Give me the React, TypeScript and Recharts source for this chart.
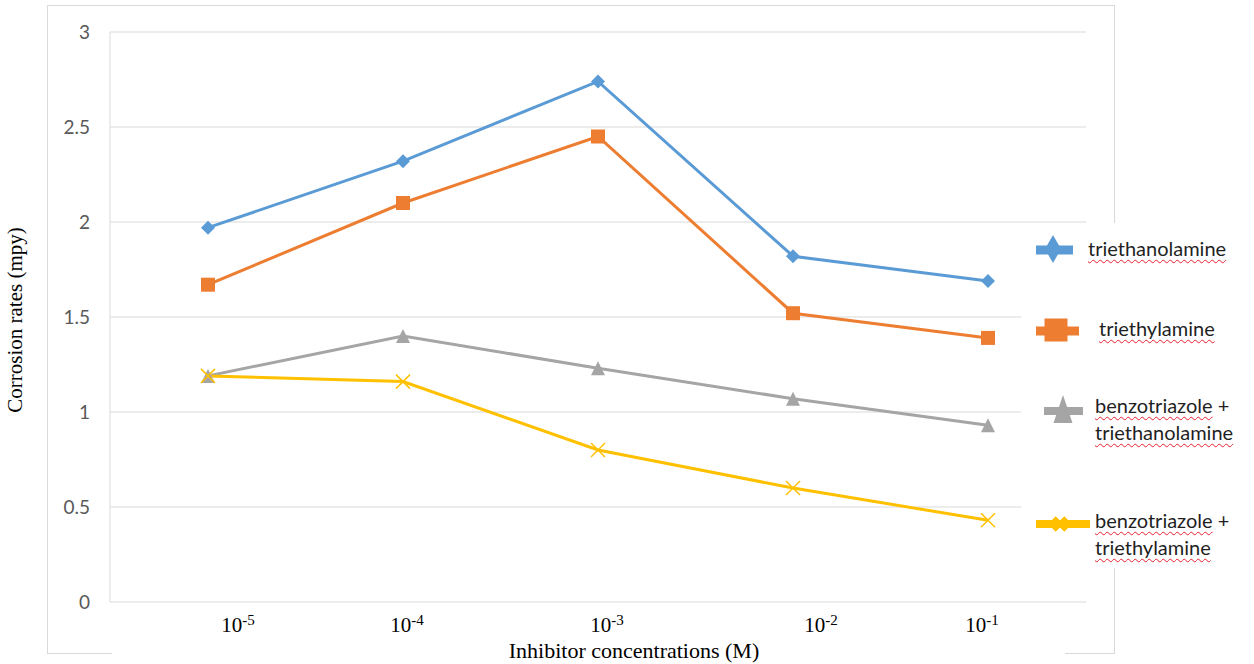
import { LineChart, Line, XAxis, YAxis, CartesianGrid, Label } from "recharts";

// concentration exponents (10^x M)
const EXPONENTS = ["-5", "-4", "-3", "-2", "-1"];

// corrosion rates (mpy)
const TRIETHANOLAMINE = [1.97, 2.32, 2.74, 1.82, 1.69];
const TRIETHYLAMINE = [1.67, 2.1, 2.45, 1.52, 1.39];
const BTA_TRIETHANOLAMINE = [1.19, 1.4, 1.23, 1.07, 0.93];
const BTA_TRIETHYLAMINE = [1.19, 1.16, 0.8, 0.6, 0.43];

const Y_TICKS = [0, 0.5, 1, 1.5, 2, 2.5, 3];

// the tick labels were placed by hand in the original, a bit off the points
const TICK_NUDGE = [30, 4, 9, 28, -6];

const data = EXPONENTS.map((exp, i) => ({
  exp,
  tea: TRIETHANOLAMINE[i],
  tey: TRIETHYLAMINE[i],
  btaTea: BTA_TRIETHANOLAMINE[i],
  btaTey: BTA_TRIETHYLAMINE[i],
}));

type Shape = "diamond" | "square" | "triangle" | "x";

const SERIES: Array<{ key: string; color: string; shape: Shape }> = [
  { key: "tea", color: "#5b9bd5", shape: "diamond" },
  { key: "tey", color: "#ed7d31", shape: "square" },
  { key: "btaTea", color: "#a5a5a5", shape: "triangle" },
  { key: "btaTey", color: "#ffc000", shape: "x" },
];

const GRID = "#d9d9d9";
const SERIF = "'Liberation Serif', 'Times New Roman', serif";
const SANS = "Lato, 'Open Sans', sans-serif";

function Marker({
  shape,
  cx,
  cy,
  color,
  w,
  h,
  xStroke = 1.5,
}: {
  shape: Shape;
  cx: number;
  cy: number;
  color: string;
  w: number;
  h: number;
  xStroke?: number;
}) {
  const hw = w / 2;
  const hh = h / 2;
  if (shape === "diamond")
    return (
      <polygon
        points={`${cx},${cy - hh} ${cx + hw},${cy} ${cx},${cy + hh} ${cx - hw},${cy}`}
        fill={color}
      />
    );
  if (shape === "square")
    return <rect x={cx - hw} y={cy - hh} width={w} height={h} fill={color} />;
  if (shape === "triangle")
    return (
      <polygon
        points={`${cx},${cy - hh} ${cx + hw},${cy + hh} ${cx - hw},${cy + hh}`}
        fill={color}
      />
    );
  return (
    <g stroke={color} strokeWidth={xStroke}>
      <line x1={cx - hw} y1={cy - hh} x2={cx + hw} y2={cy + hh} />
      <line x1={cx - hw} y1={cy + hh} x2={cx + hw} y2={cy - hh} />
    </g>
  );
}

const ConcTick = ({ x, y, payload, index }: any) => (
  <text
    x={x + (TICK_NUDGE[index] ?? 0)}
    y={y + 30}
    textAnchor="middle"
    fontFamily={SERIF}
    fontSize={21}
    fill="#000"
  >
    10
    <tspan fontSize={15} dy={-7}>
      {payload.value}
    </tspan>
  </text>
);

const Squiggle = ({ children }: { children: string }) => (
  <span
    style={{
      textDecoration: "underline wavy #e8212e",
      textDecorationThickness: "1px",
      textUnderlineOffset: "3px",
    }}
  >
    {children}
  </span>
);

const LEGEND_TEXT: Array<{ left: number; top: number; words: string[][] }> = [
  { left: 67, top: 12, words: [["triethanolamine"]] },
  { left: 78, top: 92, words: [["triethylamine"]] },
  { left: 74, top: 169, words: [["benzotriazole", " +"], ["triethanolamine"]] },
  { left: 74, top: 284, words: [["benzotriazole", " +"], ["triethylamine"]] },
];

function LegendBox() {
  return (
    <div
      style={{
        position: "absolute",
        left: 1021,
        top: 223,
        width: 233,
        height: 345,
        background: "#fff",
      }}
    >
      <svg width={100} height={345} style={{ position: "absolute", left: 0, top: 0 }}>
        <line x1={15} x2={52} y1={27} y2={27} stroke={SERIES[0].color} strokeWidth={9} />
        <Marker shape="diamond" cx={32} cy={26} w={16} h={28} color={SERIES[0].color} />
        <line x1={15} x2={58} y1={108} y2={108} stroke={SERIES[1].color} strokeWidth={9} />
        <Marker shape="square" cx={35} cy={107} w={23} h={23} color={SERIES[1].color} />
        <line x1={23} x2={62} y1={188} y2={188} stroke={SERIES[2].color} strokeWidth={8} />
        <Marker shape="triangle" cx={42} cy={186} w={19} h={28} color={SERIES[2].color} />
        <line x1={15} x2={69} y1={301} y2={301} stroke={SERIES[3].color} strokeWidth={8} />
        <Marker shape="x" cx={39} cy={301} w={12} h={12} xStroke={5} color={SERIES[3].color} />
      </svg>
      {LEGEND_TEXT.map((t, i) => (
        <div
          key={i}
          style={{
            position: "absolute",
            left: t.left,
            top: t.top,
            fontFamily: SANS,
            fontSize: 20,
            lineHeight: "27px",
            color: "#1f1f1f",
            whiteSpace: "nowrap",
          }}
        >
          {t.words.map((line, j) => (
            <div key={j}>
              <Squiggle>{line[0]}</Squiggle>
              {line[1] ?? ""}
            </div>
          ))}
        </div>
      ))}
    </div>
  );
}

export default function App() {
  return (
    <div
      style={{
        position: "absolute",
        left: 0,
        top: 0,
        width: 1254,
        height: 664,
        background: "#fff",
        overflow: "hidden",
      }}
    >
      {/* outer chart frame */}
      <div
        style={{
          position: "absolute",
          left: 47,
          top: 5,
          width: 1066,
          height: 647,
          border: `1px solid ${GRID}`,
        }}
      />
      {/* white box behind the category labels */}
      <div
        style={{
          position: "absolute",
          left: 112,
          top: 604,
          width: 953,
          height: 60,
          background: "#fff",
        }}
      />
      <div style={{ position: "absolute", left: 0, top: 0 }}>
        <LineChart
          width={1254}
          height={664}
          data={data}
          margin={{ top: 32, right: 168, bottom: 0, left: 47 }}
        >
          <CartesianGrid vertical={false} stroke={GRID} strokeWidth={1} />
          <XAxis
            dataKey="exp"
            height={62}
            axisLine={false}
            tickLine={false}
            tickSize={0}
            tickMargin={0}
            padding={{ left: 98, right: 98 }}
            tick={<ConcTick />}
            interval={0}
          >
            <Label
              content={() => (
                <text
                  x={634}
                  y={658}
                  textAnchor="middle"
                  fontFamily={SERIF}
                  fontSize={22}
                  fill="#000"
                >
                  Inhibitor concentrations (M)
                </text>
              )}
            />
          </XAxis>
          <YAxis
            width={63}
            domain={[0, 3]}
            ticks={Y_TICKS}
            axisLine={{ stroke: GRID }}
            tickLine={false}
            tickSize={0}
            tickMargin={20}
            tick={{ fill: "#595959", fontFamily: SANS, fontSize: 19 }}
          >
            <Label
              content={() => (
                <text
                  x={22}
                  y={320}
                  transform="rotate(-90, 22, 320)"
                  textAnchor="middle"
                  fontFamily={SERIF}
                  fontSize={21}
                  fill="#000"
                >
                  Corrosion rates (mpy)
                </text>
              )}
            />
          </YAxis>
          {SERIES.map((s) => (
            <Line
              key={s.key}
              dataKey={s.key}
              stroke={s.color}
              strokeWidth={3}
              isAnimationActive={false}
              activeDot={false}
              dot={(p: any) => (
                <Marker
                  key={`${s.key}-${p.index}`}
                  shape={s.shape}
                  cx={p.cx}
                  cy={p.cy}
                  w={14}
                  h={14}
                  color={s.color}
                />
              )}
            />
          ))}
        </LineChart>
      </div>
      <LegendBox />
    </div>
  );
}
